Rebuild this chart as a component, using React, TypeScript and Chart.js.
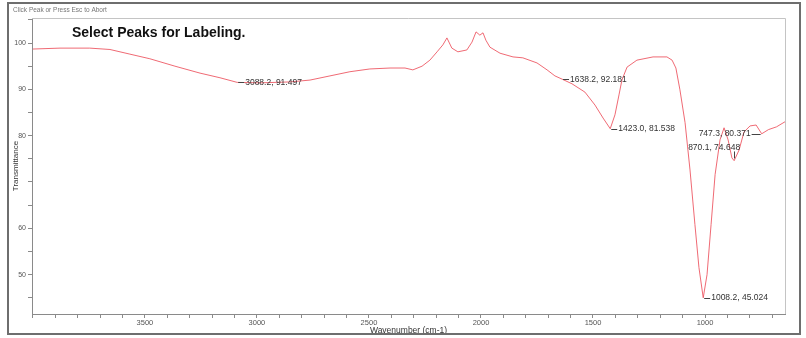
import React, { useEffect, useRef } from 'react';
import { Chart, registerables } from 'chart.js';

Chart.register(...registerables);

const wavenumbers = [
  4000, 3879, 3746, 3656, 3567, 3478, 3366, 3254, 3165, 3088, 2986, 2853, 2763, 2674, 2585, 2496,
  2406, 2339, 2304, 2263, 2228, 2196, 2170, 2152, 2130, 2103, 2063, 2040, 2022, 2005, 1991, 1978,
  1960, 1915, 1857, 1813, 1750, 1705, 1670, 1638, 1594, 1536, 1491, 1455, 1423, 1402, 1384, 1371,
  1348, 1304, 1232, 1170, 1147, 1130, 1112, 1089, 1067, 1045, 1027, 1008, 991, 973, 955, 933,
  915, 897, 880, 870, 848, 826, 799, 772, 747, 717, 681, 643,
];
const transmittance = [
  98.7, 98.9, 98.9, 98.6, 97.6, 96.6, 95.0, 93.5, 92.5, 91.5, 91.4, 91.6, 92.0, 92.9, 93.8, 94.4,
  94.6, 94.6, 94.2, 95.0, 96.3, 98.1, 99.6, 101.1, 98.9, 98.1, 98.5, 100.2, 102.4, 101.7, 102.2, 100.6,
  99.1, 97.8, 97.0, 96.8, 95.7, 94.2, 92.9, 92.2, 91.2, 89.4, 86.6, 83.8, 81.5, 84.5, 88.8, 92.0,
  94.8, 96.3, 97.0, 97.0, 96.3, 94.6, 89.9, 82.8, 72.6, 60.8, 51.5, 45.0, 50.0, 60.8, 71.6, 79.1,
  81.7, 79.1, 75.2, 74.6, 76.9, 80.8, 82.1, 82.3, 80.4, 81.3, 81.9, 83.0,
];

const xTickLabels = [3500, 3000, 2500, 2000, 1500, 1000];
const yTickLabels = [50, 60, 80, 90, 100];

const peakWavenumbers = [3088.2, 1638.2, 1423.0, 1008.2, 870.1, 747.3];
const peakTransmittance = [91.497, 92.181, 81.538, 45.024, 74.648, 80.371];
const peakLabels = ['3088.2, 91.497', '1638.2, 92.181', '1423.0, 81.538', '1008.2, 45.024', '870.1, 74.648', '747.3, 80.371'];
const peakPlacement = ['right', 'right', 'right', 'right', 'above', 'left'];

const headingText = 'Select Peaks for Labeling.';
const statusText = 'Click Peak or Press Esc to Abort';
const xTitle = 'Wavenumber (cm-1)';
const yTitle = 'Transmittance';

const FONT = '"Liberation Sans", Arial, sans-serif';

const overlay = {
  id: 'overlay',
  beforeDraw(chart: any) {
    const { ctx, width, height } = chart;
    ctx.save();
    ctx.fillStyle = '#ffffff';
    ctx.fillRect(0, 0, width, height);
    ctx.restore();
  },
  afterDraw(chart: any) {
    const { ctx, chartArea: ca, scales } = chart;
    const x = scales.x;
    const y = scales.y;
    ctx.save();
    ctx.strokeStyle = '#c4c4c4';
    ctx.lineWidth = 1;
    ctx.beginPath();
    ctx.moveTo(ca.left, ca.top + 0.5);
    ctx.lineTo(ca.right + 0.5, ca.top + 0.5);
    ctx.lineTo(ca.right + 0.5, ca.bottom);
    ctx.stroke();
    ctx.strokeStyle = '#6e6e6e';
    ctx.lineWidth = 2;
    ctx.strokeRect(8, 3, 792, 331);
    ctx.fillStyle = '#777';
    ctx.font = `6.5px ${FONT}`;
    ctx.textBaseline = 'middle';
    ctx.textAlign = 'left';
    ctx.fillText(statusText, 13, 10);
    ctx.fillStyle = '#111';
    ctx.font = `bold 14px ${FONT}`;
    ctx.textBaseline = 'alphabetic';
    ctx.fillText(headingText, 72, 37);
    ctx.font = `8.5px ${FONT}`;
    ctx.fillStyle = '#333';
    ctx.strokeStyle = '#444';
    ctx.lineWidth = 1;
    for (let i = 0; i < peakWavenumbers.length; i++) {
      const px = x.getPixelForValue(peakWavenumbers[i]);
      const py = y.getPixelForValue(peakTransmittance[i]);
      const place = peakPlacement[i];
      ctx.beginPath();
      if (place === 'right') {
        ctx.moveTo(px + 1, Math.round(py) + 0.5);
        ctx.lineTo(px + 7, Math.round(py) + 0.5);
        ctx.stroke();
        ctx.textAlign = 'left';
        ctx.textBaseline = 'middle';
        ctx.fillText(peakLabels[i], px + 8, py);
      } else if (place === 'left') {
        ctx.moveTo(px - 1, Math.round(py) + 0.5);
        ctx.lineTo(px - 10, Math.round(py) + 0.5);
        ctx.stroke();
        ctx.textAlign = 'right';
        ctx.textBaseline = 'middle';
        ctx.fillText(peakLabels[i], px - 11, py);
      } else {
        ctx.moveTo(Math.round(px) + 0.5, py - 2);
        ctx.lineTo(Math.round(px) + 0.5, py - 9);
        ctx.stroke();
        ctx.textAlign = 'right';
        ctx.textBaseline = 'bottom';
        ctx.fillText(peakLabels[i], px + 6, py - 9);
      }
    }
    ctx.restore();
  },
};

export default function App() {
  const ref = useRef<HTMLCanvasElement>(null);
  useEffect(() => {
    document.body.style.margin = '0';
    const canvas = ref.current;
    if (!canvas) return;
    const points = wavenumbers.map((w, i) => ({ x: w, y: transmittance[i] }));
    const chart = new Chart(canvas, {
      type: 'scatter',
      data: {
        datasets: [
          {
            data: points,
            showLine: true,
            borderColor: 'rgba(236, 80, 92, 0.85)',
            borderWidth: 1,
            pointRadius: 0,
            tension: 0,
          },
        ],
      },
      options: {
        responsive: false,
        animation: false,
        events: [],
        layout: { padding: { top: 18, right: 21, left: 0, bottom: 0 } },
        plugins: { legend: { display: false }, tooltip: { enabled: false }, title: { display: false } },
        scales: {
          x: {
            type: 'linear',
            reverse: true,
            min: 643,
            max: 4004,
            afterFit: (s: any) => { s.height = 24; },
            ticks: {
              stepSize: 100,
              includeBounds: false,
              autoSkip: false,
              maxRotation: 0,
              padding: 0,
              color: '#555',
              font: { size: 7.5, family: FONT },
              callback: (v: any) => (xTickLabels.includes(Number(v)) ? String(v) : ''),
            },
            grid: { display: true, drawOnChartArea: false, drawTicks: true, tickLength: 4, color: '#8a8a8a' },
            border: { display: true, color: '#8a8a8a' },
            title: { display: true, text: xTitle, color: '#333', font: { size: 8.5, family: FONT }, padding: { top: 0, bottom: 2 } },
          },
          y: {
            type: 'linear',
            min: 41.5,
            max: 105.4,
            afterFit: (s: any) => { s.width = 32; },
            ticks: {
              stepSize: 5,
              includeBounds: false,
              autoSkip: false,
              padding: 2,
              color: '#555',
              font: { size: 7, family: FONT },
              callback: (v: any) => (yTickLabels.includes(Number(v)) ? String(v) : ''),
            },
            grid: { display: true, drawOnChartArea: false, drawTicks: true, tickLength: 4, color: '#8a8a8a' },
            border: { display: true, color: '#8a8a8a' },
            title: { display: true, text: yTitle, color: '#333', font: { size: 8, family: FONT }, padding: { top: 11, bottom: 0 } },
          },
        },
      },
      plugins: [overlay],
    });
    return () => chart.destroy();
  }, []);
  return <canvas ref={ref} width={806} height={338} style={{ display: 'block' }} />;
}
